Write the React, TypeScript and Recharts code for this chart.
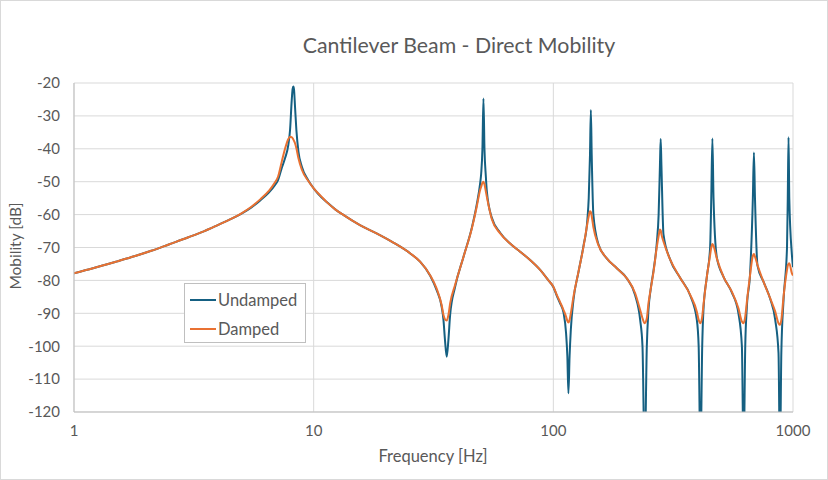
import React from "react";
import { LineChart, Line, XAxis, YAxis, CartesianGrid } from "recharts";

const freq = [
  1, 1.2, 1.5, 1.8, 2.1, 2.5, 3.0, 3.5, 4.0, 4.5, 5.0, 5.5, 6.0, 6.5, 6.9, 7.1, 7.36, 7.6, 7.84, 7.97, 8.1,
  8.17, 8.23, 8.28, 8.36, 8.47, 8.64, 8.92, 9.5, 10, 10.8, 11.34, 12.3, 13.3, 15.6, 18.3, 21.5, 25.3, 27.8,
  30.6, 32.6, 34.2, 34.8, 35.3, 35.9, 36.5, 37.1, 38.9, 42.2, 45.7, 47.9, 49.5, 50.0, 50.6, 51.1, 51.6, 52.3,
  52.8, 55.4, 60, 66, 72.7, 80, 88.1, 95.4, 100, 103.4, 106.7, 110.3, 113, 114.4, 115.6, 116.9, 118.3, 121.3,
  127.3, 133.6, 138.7, 140.5, 142.2, 143.4, 144.6, 146.9, 154.2, 167.1, 184, 202.7, 219.5, 230.3, 235.5,
  240.5, 245.5, 249.4, 255, 261.8, 270.3, 275, 278.5, 280.5, 282.5, 288.1, 307.3, 338, 372.5, 397, 404, 411,
  418, 423, 437, 451, 456, 461, 466, 481, 513, 556, 592, 612, 622, 632, 642, 662, 680, 687, 694, 711, 753,
  803, 843, 870, 882, 894, 913, 944, 951, 958, 965, 989, 1000,
];

const undamped = [
  -77.8, -76.3, -74.3, -72.6, -71.0, -69.0, -66.9, -65.0, -63.1, -61.4, -59.7, -57.8, -55.6, -53.3, -51.0,
  -49.5, -45.8, -42.8, -38.8, -34.3, -25.2, -21.8, -21.1, -22.0, -27.2, -34.3, -40.9, -45.4, -49.6, -52.0,
  -54.8, -56.2, -58.4, -60.1, -63.2, -65.7, -68.5, -71.8, -74.3, -78.5, -83.0, -88.0, -92.0, -98.0, -103.2,
  -98.0, -90.5, -82.0, -72.8, -64.0, -57.0, -50.5, -47.5, -40.0, -24.7, -40.0, -48.5, -53.0, -61.0, -65.5,
  -68.8, -71.3, -73.8, -76.8, -80.0, -82.0, -84.7, -87.0, -89.8, -96, -103, -114.3, -103, -95, -86, -77.5,
  -69.5, -61.5, -55, -42, -28.2, -42, -60, -69, -73.3, -76.3, -79.4, -84.5, -92, -100, -135, -100, -89,
  -82.5, -77, -68.5, -60, -45, -37, -45, -66, -73.7, -79.2, -84.6, -92, -100, -135, -100, -89, -78.9, -70,
  -55, -36.9, -55, -73, -78.9, -83.7, -90, -100, -135, -100, -88, -78, -55, -41.1, -55, -75.5, -80.4,
  -85.6, -92, -102, -135, -102, -86, -70, -55, -36.5, -55, -72, -76,
];

const damped = [
  -77.8, -76.3, -74.3, -72.6, -71.0, -69.0, -66.9, -65.0, -63.1, -61.4, -59.6, -57.6, -55.3, -52.8, -50.2,
  -48.5, -43.9, -39.9, -37.0, -36.3, -36.5, -36.8, -37.2, -37.6, -38.3, -39.8, -42.9, -46.3, -49.8, -52.0,
  -54.6, -56.2, -58.4, -60.1, -63.2, -65.7, -68.5, -71.8, -74.3, -78.4, -82.5, -87.5, -90.5, -91.8, -92.2,
  -90.5, -87.0, -81.4, -72.8, -64.2, -57.6, -52.5, -51.5, -50.3, -50.0, -50.8, -53.0, -54.6, -61.4, -65.7,
  -68.8, -71.3, -73.8, -76.8, -80.0, -81.9, -84.4, -86.6, -89.0, -91.0, -92.3, -92.8, -92.0, -90.0, -85.0,
  -77.4, -69.8, -62.7, -60.5, -59.0, -59.2, -60.5, -63.8, -69.3, -73.3, -76.3, -79.4, -83.9, -89.0, -91.5,
  -93.0, -91.5, -87.0, -82.5, -77.4, -69.8, -66.5, -64.5, -64.8, -66.0, -68.2, -73.7, -79.2, -84.4, -89.5,
  -92.0, -93.0, -91.0, -87.5, -78.9, -72.3, -70.0, -68.9, -69.5, -73.3, -78.9, -83.5, -88.5, -92.5, -93.0,
  -91.0, -86.5, -78.4, -72.5, -72.0, -72.8, -75.3, -80.4, -85.4, -89.5, -93.0, -93.5, -92.0, -85.0, -76.8,
  -75.5, -75.0, -74.8, -77.8, -78.5,
];

const xTicks = [1, 10, 100, 1000];
const yTicks = [-120, -110, -100, -90, -80, -70, -60, -50, -40, -30, -20];
const seriesNames = ["Undamped", "Damped"];

const data = freq.map((f, i) => ({ f, undamped: undamped[i], damped: damped[i] }));

const FONT = "Lato, 'Open Sans', sans-serif";
const TEXT = "#595959";
const BLUE = "#156082";
const ORANGE = "#E97132";

export default function App() {
  return (
    <div style={{ position: "absolute", left: 0, top: 0, width: 828, height: 480, background: "#fff" }}>
      <LineChart width={828} height={480} data={data} margin={{ top: 83, right: 35, bottom: 38, left: 14 }}>
        <CartesianGrid stroke="#d9d9d9" strokeWidth={1} />
        <XAxis
          dataKey="f"
          type="number"
          scale="log"
          domain={[1, 1000]}
          ticks={xTicks}
          allowDataOverflow
          height={30}
          tickLine={false}
          tickSize={0}
          tickMargin={13}
          axisLine={{ stroke: "#bfbfbf" }}
          tick={{ fill: TEXT, fontSize: 15, fontFamily: FONT }}
        />
        <YAxis
          type="number"
          domain={[-120, -20]}
          ticks={yTicks}
          allowDataOverflow
          width={60}
          tickLine={false}
          tickSize={0}
          tickMargin={14}
          axisLine={{ stroke: "#bfbfbf" }}
          tick={{ fill: TEXT, fontSize: 15, fontFamily: FONT }}
        />
        <Line
          dataKey="undamped"
          name={seriesNames[0]}
          stroke={BLUE}
          strokeWidth={2}
          dot={false}
          type="monotone"
          isAnimationActive={false}
        />
        <Line
          dataKey="damped"
          name={seriesNames[1]}
          stroke={ORANGE}
          strokeWidth={2}
          dot={false}
          type="monotone"
          isAnimationActive={false}
        />
      </LineChart>
      <div
        style={{
          position: "absolute",
          left: 184,
          top: 283,
          width: 122,
          height: 60,
          border: "1px solid #bfbfbf",
          background: "#fff",
          fontFamily: FONT,
          fontSize: 16.5,
          color: TEXT,
          boxSizing: "border-box",
          paddingLeft: 5,
          paddingTop: 1,
        }}
      >
        {[
          { name: seriesNames[0], color: BLUE },
          { name: seriesNames[1], color: ORANGE },
        ].map((s) => (
          <div key={s.name} style={{ display: "flex", alignItems: "center", height: 29 }}>
            <div style={{ width: 26, height: 2, background: s.color, marginRight: 2 }} />
            <span>{s.name}</span>
          </div>
        ))}
      </div>
      <div
        style={{
          position: "absolute",
          left: 0,
          top: 32,
          width: 918,
          textAlign: "center",
          fontFamily: FONT,
          fontSize: 21.3,
          color: TEXT,
          whiteSpace: "nowrap",
        }}
      >
        Cantilever Beam - Direct Mobility
      </div>
      <div
        style={{
          position: "absolute",
          left: 0,
          top: 446,
          width: 866,
          textAlign: "center",
          fontFamily: FONT,
          fontSize: 16.5,
          color: TEXT,
        }}
      >
        Frequency [Hz]
      </div>
      <div
        style={{
          position: "absolute",
          left: 15,
          top: 246,
          transform: "translate(-50%, -50%) rotate(-90deg)",
          fontFamily: FONT,
          fontSize: 15.5,
          color: TEXT,
          whiteSpace: "nowrap",
        }}
      >
        Mobility [dB]
      </div>
      <div
        style={{
          position: "absolute",
          left: 0,
          top: 0,
          width: 828,
          height: 480,
          border: "1px solid #d9d9d9",
          boxSizing: "border-box",
          pointerEvents: "none",
        }}
      />
    </div>
  );
}
